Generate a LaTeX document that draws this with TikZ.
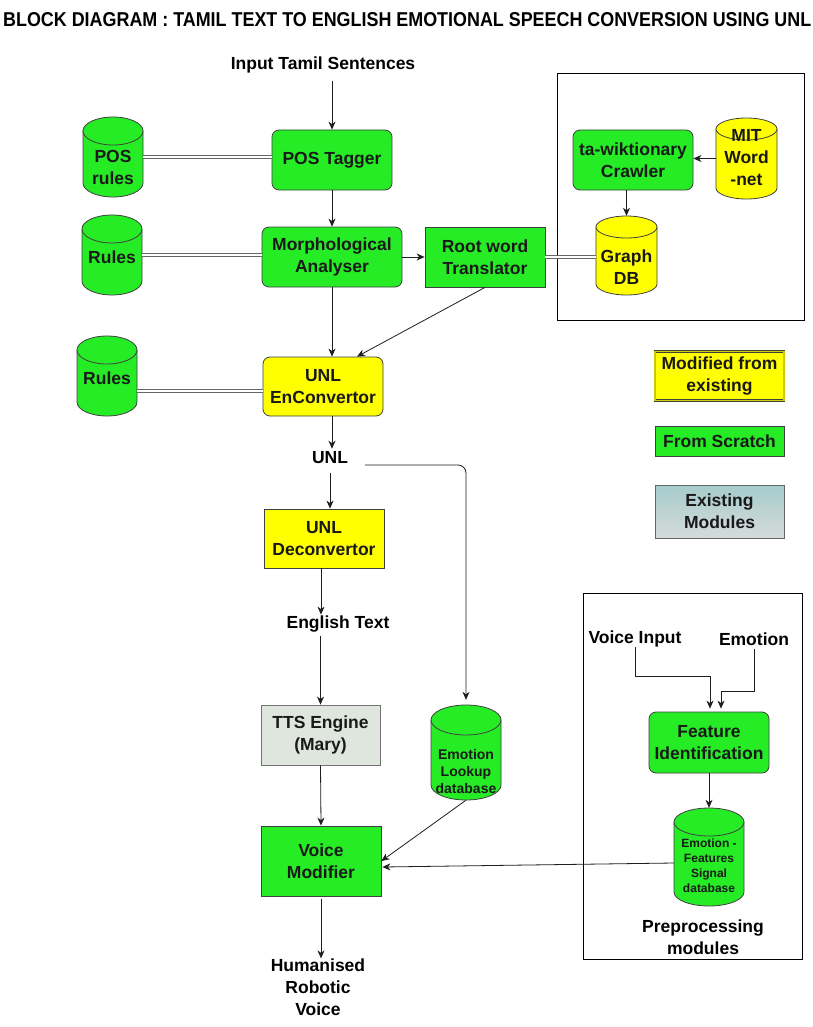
\documentclass[tikz,border=0pt]{standalone}
\usepackage{fontspec}
\setmainfont{Liberation Sans}
\usepackage{graphicx}
\usetikzlibrary{arrows.meta,calc}
\definecolor{cgreen}{RGB}{38,236,38}
\definecolor{cyellow}{RGB}{255,255,0}
\definecolor{ctts}{RGB}{222,230,222}
\definecolor{cextop}{RGB}{166,204,204}
\definecolor{cexbot}{RGB}{214,218,218}
\definecolor{cline}{RGB}{30,30,30}
\newcommand\labfont{\fontsize{17.5}{22}\selectfont\bfseries}
\newcommand\smfont{\fontsize{14}{17}\selectfont\bfseries}
\newcommand\xsfont{\fontsize{12}{15}\selectfont\bfseries}
\newcommand\cylf{\labfont}
\tikzset{
  blk/.style={draw=black!75, line width=0.8pt, align=center, font=\labfont, inner sep=0pt, text=black!90},
  rblk/.style={blk, rounded corners=7pt},
  lbl/.style={font=\labfont, inner sep=3pt, align=center},
  cyl/.style={draw=black!75, line width=0.8pt},
  cyltext/.style={align=center, inner sep=0pt, text=black!90, font=\cylf},
  arr/.style={draw=cline, line width=0.8pt, -{Stealth[length=8pt,width=7pt,inset=2.5pt]}},
  dbl/.style={draw=black!60, double=white, double distance=2pt, line width=0.8pt},
  frame/.style={draw=black, line width=0.9pt},
}
\newcommand\dbcyl[9]{%
  \pgfmathsetmacro\cyrx{#5/2}%
  \pgfmathsetmacro\cyL{#2-\cyrx}\pgfmathsetmacro\cyR{#2+\cyrx}%
  \pgfmathsetmacro\cyT{#3+#6}\pgfmathsetmacro\cyB{#4-#6}%
  \pgfmathsetmacro\cyH{#4-#3}\pgfmathsetmacro\cyM{(#3+#4)/2}%
  \filldraw[cyl,fill=#7] (\cyL,\cyT) -- (\cyL,\cyB) arc[start angle=180,end angle=0,x radius=\cyrx,y radius=#6] -- (\cyR,\cyT) -- cycle;
  \filldraw[cyl,fill=#7] (#2,\cyT) ellipse[x radius=\cyrx,y radius=#6];
  \node[inner sep=0pt,minimum width={#5*1pt},minimum height={(\cyH)*1pt}] (#1) at (#2,\cyM) {};
  \node[cyltext] at (#2,#8) {#9};
}
\begin{document}
\begin{tikzpicture}[x=1pt,y=-1pt]
\useasboundingbox (0,0) rectangle (813,1027);
\fill[white] (0,0) rectangle (813,1027);

% title
\node[inner sep=0pt, anchor=west] (title) at (3,20) {\resizebox{808pt}{14pt}{\bfseries BLOCK DIAGRAM : TAMIL TEXT TO ENGLISH EMOTIONAL SPEECH CONVERSION USING UNL}};

% frames
\draw[frame] (557,73) rectangle (804,320);
\draw[frame] (583,593) rectangle (802,959);

% main boxes
\node[lbl] (input) at (323,65) {Input Tamil Sentences};
\node[rblk, fill=cgreen, minimum width=120pt, minimum height=60pt] (pos) at (332,160) {POS Tagger};
\node[rblk, fill=cgreen, minimum width=140pt, minimum height=60pt] (morph) at (332,257) {Morphological\\Analyser};
\node[blk, fill=cgreen, minimum width=120pt, minimum height=60pt] (root) at (485,257) {Root word\\Translator};
\node[rblk, fill=cyellow, minimum width=120pt, minimum height=59pt] (enc) at (323,386.5) {UNL\\EnConvertor};
\node[rblk, fill=cgreen, minimum width=120pt, minimum height=60pt] (crawl) at (633,160) {ta-wiktionary\\Crawler};

\dbcyl{posr}{113}{117}{197}{60}{14}{cgreen}{167}{POS\\rules}
\dbcyl{r1}{112}{215}{295}{60}{14}{cgreen}{257}{Rules}
\dbcyl{r2}{107}{336}{416}{60}{14}{cgreen}{378}{Rules}
\dbcyl{mit}{746.5}{118}{199}{61}{11}{cyellow}{158}{MIT\\Word\\-net}
\dbcyl{gdb}{626.5}{216}{295}{61}{11}{cyellow}{267}{Graph\\DB}

% legend
\node[blk, fill=cyellow, draw=black!75, double=cyellow!80!black, double distance=1.6pt, line width=0.6pt, minimum width=129pt, minimum height=49pt] (leg1) at (719.5,376) {Modified from\\existing};
\node[blk, fill=cgreen, minimum width=129pt, minimum height=30pt] (leg2) at (719.5,441) {From Scratch};
\node[blk, top color=cextop, bottom color=cexbot, draw=black!60, minimum width=129pt, minimum height=53pt] (leg3) at (719.5,511.5) {Existing\\Modules};

% lower part
\node[lbl] (unl) at (330,458) {UNL};
\node[blk, fill=cyellow, minimum width=120pt, minimum height=59pt] (deco) at (324,538.5) {UNL\\Deconvertor};
\node[lbl] (eng) at (338,624) {English Text};
\node[blk, fill=ctts, draw=black!55, minimum width=119pt, minimum height=60pt] (tts) at (320.5,735) {TTS Engine\\(Mary)};
\renewcommand\cylf{\smfont}
\dbcyl{elook}{466}{705}{800}{70}{15}{cgreen}{771}{Emotion\\Lookup\\database}
\node[blk, fill=cgreen, minimum width=120pt, minimum height=70pt] (vm) at (321,861) {Voice\\Modifier};
\node[lbl] (out) at (318,987) {Humanised\\Robotic\\Voice};

% preprocessing
\node[lbl] (vin) at (635,639) {Voice Input};
\node[lbl] (emo) at (754,639) {Emotion};
\node[rblk, fill=cgreen, minimum width=120pt, minimum height=61pt] (fi) at (709,742.5) {Feature\\Identification};
\renewcommand\cylf{\xsfont}
\dbcyl{emof}{709}{808}{906}{70}{14}{cgreen}{866}{Emotion -\\Features\\Signal\\database}
\node[lbl] (pre) at (703,937) {Preprocessing\\modules};

% connectors
\draw[arr] ([yshift=-5pt]pos.north |- input.south) -- (pos.north);
\draw[dbl] (posr.east) -- (pos.west |- posr.east);
\draw[arr] (pos.south) -- (morph.north);
\draw[dbl] (r1.east) -- (morph.west |- r1.east);
\draw[arr] (morph.east) -- (root.west);
\draw[dbl] (root.east) -- (gdb.west |- root.east);
\draw[arr] (mit.west) -- (crawl.east |- mit.west);
\draw[arr] (crawl.south -| gdb.north) -- (gdb.north);
\draw[arr] (morph.south) -- (morph.south |- enc.north);
\draw[arr] (root.south) -- ([xshift=34pt]enc.north);
\path (r2.east) ++(0,15) coordinate (r2c);
\draw[dbl] (r2c) -- (enc.west |- r2c);

\draw[arr] (enc.south -| morph.south) -- ([xshift=2pt]unl.north);
\draw[arr] ([yshift=-6pt]unl.south) -- (unl.south |- deco.north);
\draw[arr, rounded corners=8pt] ([xshift=14pt,yshift=-7pt]unl.east) -- ([yshift=-7pt]elook.north |- unl.east) -- ([yshift=5pt]elook.north);
\draw[arr] ([xshift=-3pt]deco.south) -- ([xshift=-3pt,yshift=-2pt]deco.south |- eng.north);
\draw[arr] ([yshift=-1pt]tts.north |- eng.south) -- (tts.north);
\draw[arr] (tts.south) -- (vm.north);
\draw[arr] (elook.south) -- (vm.east);
\draw[arr] ($(emof.west)+(0,6)$) -- ($(vm.east)+(1,6)$);
\draw[arr] ([yshift=-3pt]vm.south) -- ([yshift=-3pt]vm.south |- out.north);

\draw[arr] ([yshift=3pt]vin.south) -- ([yshift=3pt]vin.south |- 0,679) -| ([xshift=1pt,yshift=3pt]fi.north);
\draw[arr] (emo.south) -- (emo.south |- 0,691) -| ([xshift=12pt,yshift=3pt]fi.north);
\draw[arr] (fi.south) -- (emof.north);
\end{tikzpicture}
\end{document}
